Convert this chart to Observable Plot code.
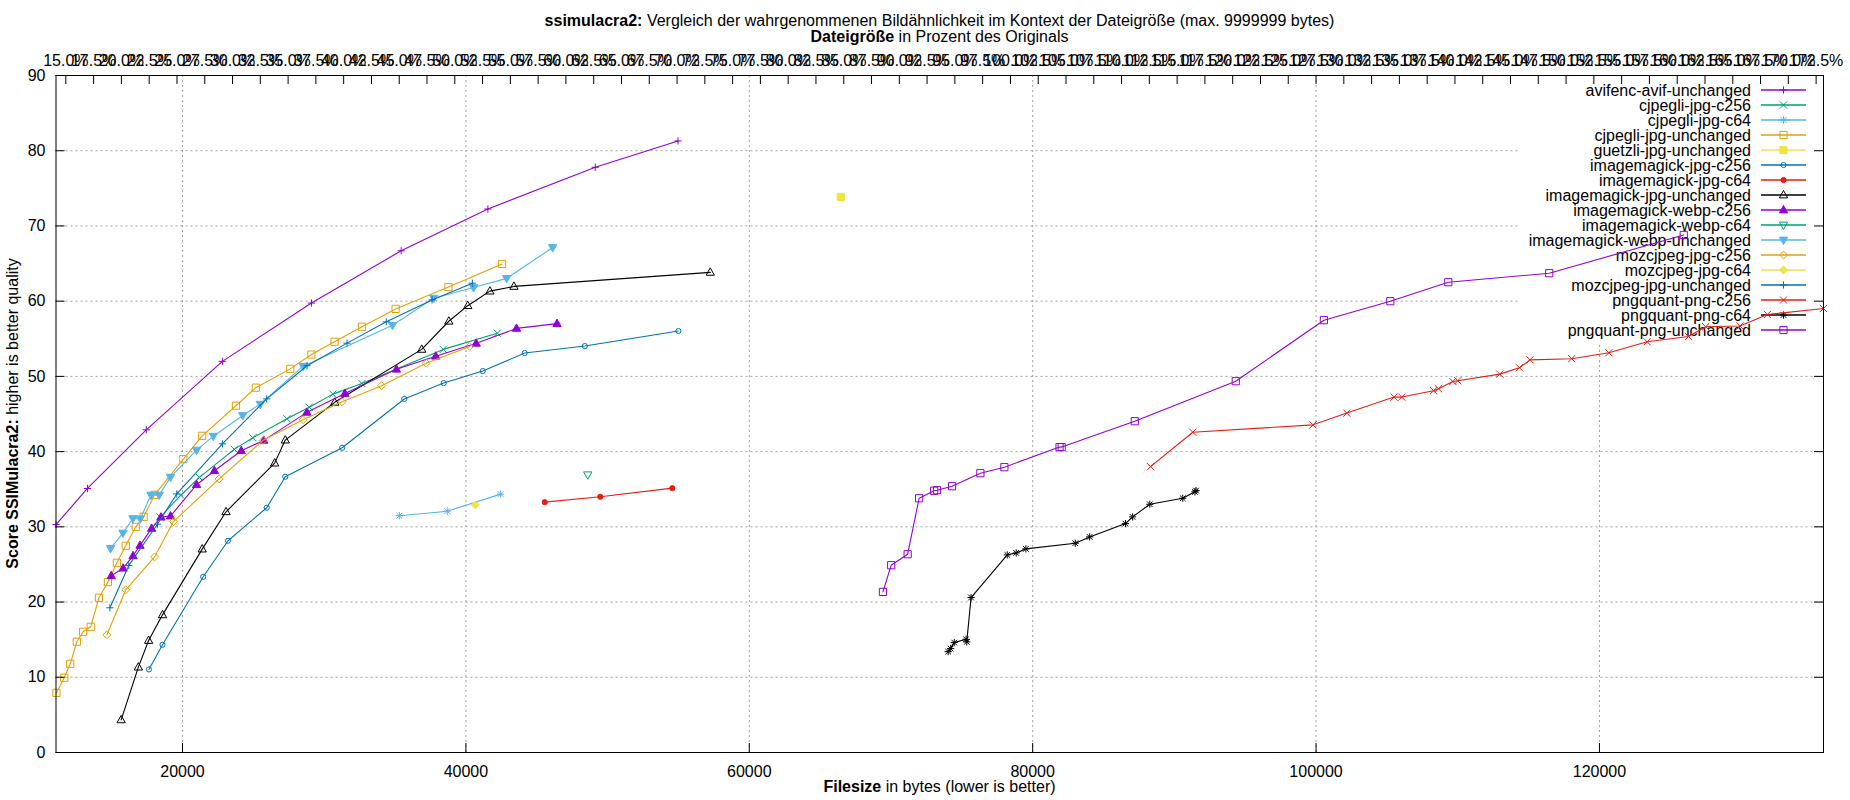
<!DOCTYPE html>
<html><head><meta charset="utf-8">
<script src="https://cdn.jsdelivr.net/npm/d3@7"></script>
<script src="https://cdn.jsdelivr.net/npm/@observablehq/plot@0.6"></script>
<style>
body{margin:0;background:#fff;font-family:"Liberation Sans",Arial,sans-serif;color:#000}
#title{width:1767px;margin-left:56px;height:45px;box-sizing:border-box;padding-top:13px;text-align:center;font-size:16px;line-height:16px}
#chart{height:733px}
#xlabel{width:1767px;margin-left:56px;height:22px;text-align:center;font-size:16px;line-height:18px}
</style></head><body>
<div id="title"><b>ssimulacra2:</b> Vergleich der wahrgenommenen Bildähnlichkeit im Kontext der Dateigröße (max. 9999999 bytes)<br><b>Dateigröße</b> in Prozent des Originals</div>
<div id="chart"></div>
<div id="xlabel"><b>Filesize</b> in bytes (lower is better)</div>
<script>
// ---------- data ----------
const avifX = [11070, 13290, 17440, 22810, 29100, 35430, 41550, 49130, 54970];
const avifY = [30.3, 35.1, 42.9, 52.0, 59.75, 66.7, 72.25, 77.8, 81.3];

const cjpegliC256X = [18420, 19880, 21190, 23650, 24965, 27370, 28940, 30610, 32660, 38400, 42220];
const cjpegliC256Y = [31.3, 34.2, 36.57, 40.3, 41.85, 44.36, 45.9, 47.64, 49.05, 53.59, 55.74];

const cjpegliC64X = [35300, 38685, 42450];
const cjpegliC64Y = [31.48, 32.08, 34.35];

const cjpegliUnchX = [11100, 11652, 12073, 12540, 12983, 13520, 14104, 14734, 15365, 15995, 16696, 17256, 18027, 20058, 21389, 23771, 25172, 27601, 29095, 30730, 32667, 35040, 38768, 42550];
const cjpegliUnchY = [7.93, 9.93, 11.79, 14.72, 16.05, 16.71, 20.57, 22.65, 25.22, 27.48, 30.0, 31.34, 34.26, 39.0, 42.1, 46.1, 48.5, 51.0, 52.9, 54.6, 56.6, 58.97, 61.87, 64.95];

const guetzliX = [66450];
const guetzliY = [73.86];

const imJpgC256X = [17630, 18587, 21459, 23211, 25943, 27251, 31267, 35650, 38432, 41189, 44148, 48396, 54997];
const imJpgC256Y = [11.04, 14.32, 23.36, 28.15, 32.54, 36.66, 40.51, 47.0, 49.11, 50.71, 53.1, 54.03, 56.03];

const imJpgC64X = [45564, 49484, 54567];
const imJpgC64Y = [33.28, 34.0, 35.14];

const imJpgUnchX = [15669, 16883, 17607, 18587, 21389, 23071, 26503, 27251, 30740, 36880, 38795, 40130, 41692, 43390, 57245];
const imJpgUnchY = [4.34, 11.35, 14.89, 18.3, 27.04, 32.0, 38.47, 41.53, 46.55, 53.59, 57.33, 59.4, 61.33, 61.96, 63.83];

const imWebpC256X = [14968, 15809, 16509, 17000, 17819, 18473, 19150, 20992, 22253, 24144, 25732, 28780, 31460, 35097, 37870, 40725, 43570, 46428];
const imWebpC256Y = [23.49, 24.5, 26.15, 27.53, 29.79, 31.29, 31.43, 35.6, 37.46, 40.12, 41.49, 45.22, 47.73, 50.95, 52.68, 54.4, 56.38, 57.02];

const imWebpC64X = [48600];
const imWebpC64Y = [36.92];

const imWebpUnchX = [14921, 15795, 16497, 17023, 17770, 18350, 19149, 20992, 22172, 24250, 25487, 28510, 34820, 37726, 40540, 42875, 46125];
const imWebpUnchY = [27.13, 29.17, 31.1, 31.07, 34.22, 34.22, 36.6, 40.2, 42.05, 44.8, 46.31, 51.36, 56.8, 60.4, 61.81, 63.03, 67.13];

const mozC256X = [14664, 15995, 18027, 19358, 22580, 25690, 28510, 31255, 34050, 37200, 40270];
const mozC256Y = [15.65, 21.63, 26.0, 30.7, 36.37, 41.5, 44.24, 46.63, 48.77, 51.75, 53.98];

const mozC64X = [40658];
const mozC64Y = [32.93];

const mozUnchX = [14875, 16206, 18230, 19591, 22814, 25940, 28790, 31610, 34380, 37610, 40455];
const mozUnchY = [19.24, 24.87, 30.35, 34.37, 41.03, 47.01, 51.42, 54.42, 57.25, 60.17, 62.39];

const pngC256X = [88317, 91300, 99785, 102175, 105500, 106050, 108291, 108638, 109653, 109999, 112969, 114355, 115098, 118043, 120666, 123364, 126285, 127497, 129923, 131853, 135813];
const pngC256Y = [38.0, 42.58, 43.56, 45.12, 47.25, 47.25, 48.1, 48.36, 49.33, 49.42, 50.3, 51.15, 52.2, 52.35, 53.14, 54.6, 55.3, 56.6, 56.7, 58.23, 59.03];

const pngC64X = [74034, 74211, 74464, 75298, 75348, 75652, 78205, 78837, 79520, 83008, 84020, 86548, 87053, 88267, 90592, 91452, 91528];
const pngC64Y = [13.41, 13.81, 14.61, 15.05, 14.7, 20.6, 26.27, 26.53, 27.07, 27.82, 28.66, 30.43, 31.32, 33.0, 33.8, 34.65, 34.82];

const pngUnchX = [69433, 70014, 71177, 71986, 73048, 73250, 74312, 76309, 78003, 81896, 82048, 87205, 94334, 100553, 105240, 109331, 116459, 125950];
const pngUnchY = [21.35, 24.9, 26.36, 33.8, 34.8, 34.87, 35.4, 37.13, 37.93, 40.6, 40.6, 44.04, 49.36, 57.47, 60.0, 62.52, 63.72, 68.8];

// tick labels
const xTicks = [20000, 40000, 60000, 80000, 100000, 120000];
const yTicks = [0, 10, 20, 30, 40, 50, 60, 70, 80, 90];
const yGrid = [10, 20, 30, 40, 50, 60, 70, 80];
const pctTicks = [15, 17.5, 20, 22.5, 25, 27.5, 30, 32.5, 35, 37.5, 40, 42.5, 45, 47.5, 50, 52.5, 55, 57.5, 60, 62.5, 65, 67.5, 70, 72.5, 75, 77.5, 80, 82.5, 85, 87.5, 90, 92.5, 95, 97.5, 100, 102.5, 105, 107.5, 110, 112.5, 115, 117.5, 120, 122.5, 125, 127.5, 130, 132.5, 135, 137.5, 140, 142.5, 145, 147.5, 150, 152.5, 155, 157.5, 160, 162.5, 165, 167.5, 170, 172.5];
const originalSize = 78430; // bytes = 100 %

const seriesNames = ["avifenc-avif-unchanged","cjpegli-jpg-c256","cjpegli-jpg-c64","cjpegli-jpg-unchanged","guetzli-jpg-unchanged","imagemagick-jpg-c256","imagemagick-jpg-c64","imagemagick-jpg-unchanged","imagemagick-webp-c256","imagemagick-webp-c64","imagemagick-webp-unchanged","mozcjpeg-jpg-c256","mozcjpeg-jpg-c64","mozcjpeg-jpg-unchanged","pngquant-png-c256","pngquant-png-c64","pngquant-png-unchanged"];
const seriesX = [avifX,cjpegliC256X,cjpegliC64X,cjpegliUnchX,guetzliX,imJpgC256X,imJpgC64X,imJpgUnchX,imWebpC256X,imWebpC64X,imWebpUnchX,mozC256X,mozC64X,mozUnchX,pngC256X,pngC64X,pngUnchX];
const seriesY = [avifY,cjpegliC256Y,cjpegliC64Y,cjpegliUnchY,guetzliY,imJpgC256Y,imJpgC64Y,imJpgUnchY,imWebpC256Y,imWebpC64Y,imWebpUnchY,mozC256Y,mozC64Y,mozUnchY,pngC256Y,pngC64Y,pngUnchY];
const palette = ["#9400d3","#009e73","#56b4e9","#e69f00","#f0e442","#0072b2","#e51e10","#000000"];
const symbolKinds = ["plus","cross","star","square","squareF","circle","circleF","triUp","triUpF","triDown","triDownF","diamond","diamondF"];

// ---------- symbols ----------
function makeSym(kind){
  return {draw(ctx, size){
    const h = Math.sqrt(size/Math.PI);
    const k = kind.replace(/F$/, "");
    if (k === "plus" || k === "star"){ ctx.moveTo(-h,0); ctx.lineTo(h,0); ctx.moveTo(0,-h); ctx.lineTo(0,h); }
    if (k === "cross" || k === "star"){ const c = k==="star"?0.78*h:h; ctx.moveTo(-c,-c); ctx.lineTo(c,c); ctx.moveTo(-c,c); ctx.lineTo(c,-c); }
    if (k === "square"){ ctx.rect(-h,-h,2*h,2*h); }
    if (k === "circle"){ const r=0.72*h; ctx.moveTo(r,0); ctx.arc(0,0,r,0,2*Math.PI); }
    if (k === "triUp"){ ctx.moveTo(0,-1.25*h); ctx.lineTo(1.15*h,0.8*h); ctx.lineTo(-1.15*h,0.8*h); ctx.closePath(); }
    if (k === "triDown"){ ctx.moveTo(0,1.25*h); ctx.lineTo(1.15*h,-0.8*h); ctx.lineTo(-1.15*h,-0.8*h); ctx.closePath(); }
    if (k === "diamond"){ ctx.moveTo(0,-1.1*h); ctx.lineTo(1.1*h,0); ctx.lineTo(0,1.1*h); ctx.lineTo(-1.1*h,0); ctx.closePath(); }
  }};
}

const series = seriesNames.map((name,i)=>({
  name,
  color: palette[i % 8],
  kind: symbolKinds[i % 13],
  data: seriesX[i].map((x,j)=>({x, y: seriesY[i][j]}))
}));

// ---------- layout ----------
const W = 1850, H = 733;
const mL = 55.5, mR = 27, mT = 30, mB = 26;
const innerW = W - mL - mR, innerH = H - mT - mB;
const R = 3.6;
const font = "'Liberation Sans', Arial, sans-serif";

const allX = seriesX.flat();
const xDomain = d3.extent(allX);
const pctValues = pctTicks.map(p => p * originalSize / 100);
const pctLabel = new Map(pctValues.map((v,i)=>[v, pctTicks[i].toFixed(1) + "%"]));

const marks = [
  Plot.ruleX(xTicks, {x: d=>d, stroke: "#a0a0a0", strokeWidth: 1, strokeDasharray: "2,3"}),
  Plot.ruleY(yGrid, {y: d=>d, stroke: "#a0a0a0", strokeWidth: 1, strokeDasharray: "2,3"})
];
for (const s of series){
  if (s.data.length > 1) marks.push(Plot.line(s.data, {x:"x", y:"y", stroke: s.color, strokeWidth: 1.1}));
  const filled = s.kind.endsWith("F");
  marks.push(Plot.dot(s.data, {x:"x", y:"y", r: R, symbol: makeSym(s.kind), stroke: s.color, fill: filled ? s.color : "none", strokeWidth: 1}));
}
marks.push(
  Plot.frame({stroke: "black", strokeWidth: 1}),
  Plot.tickX(xTicks, {x: d=>d, insetTop: innerH - 9, stroke: "black"}),
  Plot.tickX(pctValues, {x: d=>d, insetBottom: innerH - 9, stroke: "black"}),
  Plot.tickY(yTicks, {y: d=>d, insetRight: innerW - 9, stroke: "black"}),
  Plot.tickY(yTicks, {y: d=>d, insetLeft: innerW - 9, stroke: "black"}),
  Plot.axisX(xTicks, {anchor: "bottom", tickSize: 0, tickPadding: 13, tickFormat: d => String(d), label: null, fontSize: 16}),
  Plot.axisX(pctValues, {anchor: "top", tickSize: 0, tickPadding: 10, tickFormat: d => pctLabel.get(d), label: null, fontSize: 16}),
  Plot.axisY(yTicks, {anchor: "left", tickSize: 0, tickPadding: 10.5, tickFormat: d => String(d), label: null, fontSize: 16})
);

const chart = Plot.plot({
  width: W, height: H,
  marginLeft: mL, marginRight: mR, marginTop: mT, marginBottom: mB,
  x: {domain: xDomain, axis: null},
  y: {domain: [0, 90], axis: null},
  style: {fontFamily: font, fontSize: "16px", color: "black", background: "white", overflow: "visible"},
  marks
});
document.getElementById("chart").appendChild(chart);

// ---------- y label ----------
const svg = d3.select(chart);
const yl = svg.append("text")
  .attr("transform", `translate(12,${mT + innerH/2}) rotate(-90)`)
  .attr("text-anchor", "middle").attr("dy", "0.35em")
  .attr("font-family", font).attr("font-size", 16).attr("fill", "black");
yl.append("tspan").attr("font-weight", "bold").text("Score SSIMulacra2:");
yl.append("tspan").text(" higher is better quality");

// ---------- legend (inside plot, top right) ----------
const firstLine = chart.querySelector('g[aria-label="line"]');
const lg = d3.select(chart.insertBefore(document.createElementNS("http://www.w3.org/2000/svg","g"), firstLine));
const right = mL + innerW;
lg.append("rect").attr("x", 1520).attr("y", mT + 0.5).attr("width", right - 1520 - 0.5).attr("height", 267).attr("fill", "white");
series.forEach((s,i)=>{
  const yy = 45 + 15*i;
  lg.append("text").attr("x", 1751).attr("y", yy).attr("dy", "0.35em").attr("text-anchor", "end")
    .attr("font-family", font).attr("font-size", 16).attr("fill", "black").text(s.name);
  lg.append("line").attr("x1", 1761).attr("x2", 1806).attr("y1", yy).attr("y2", yy).attr("stroke", s.color).attr("stroke-width", 1.3);
  const filled = s.kind.endsWith("F");
  lg.append("path").attr("transform", `translate(1783.5,${yy})`)
    .attr("d", d3.symbol(makeSym(s.kind), Math.PI*R*R)())
    .attr("stroke", s.color).attr("fill", filled ? s.color : "none").attr("stroke-width", 1);
});
</script>
</body></html>
